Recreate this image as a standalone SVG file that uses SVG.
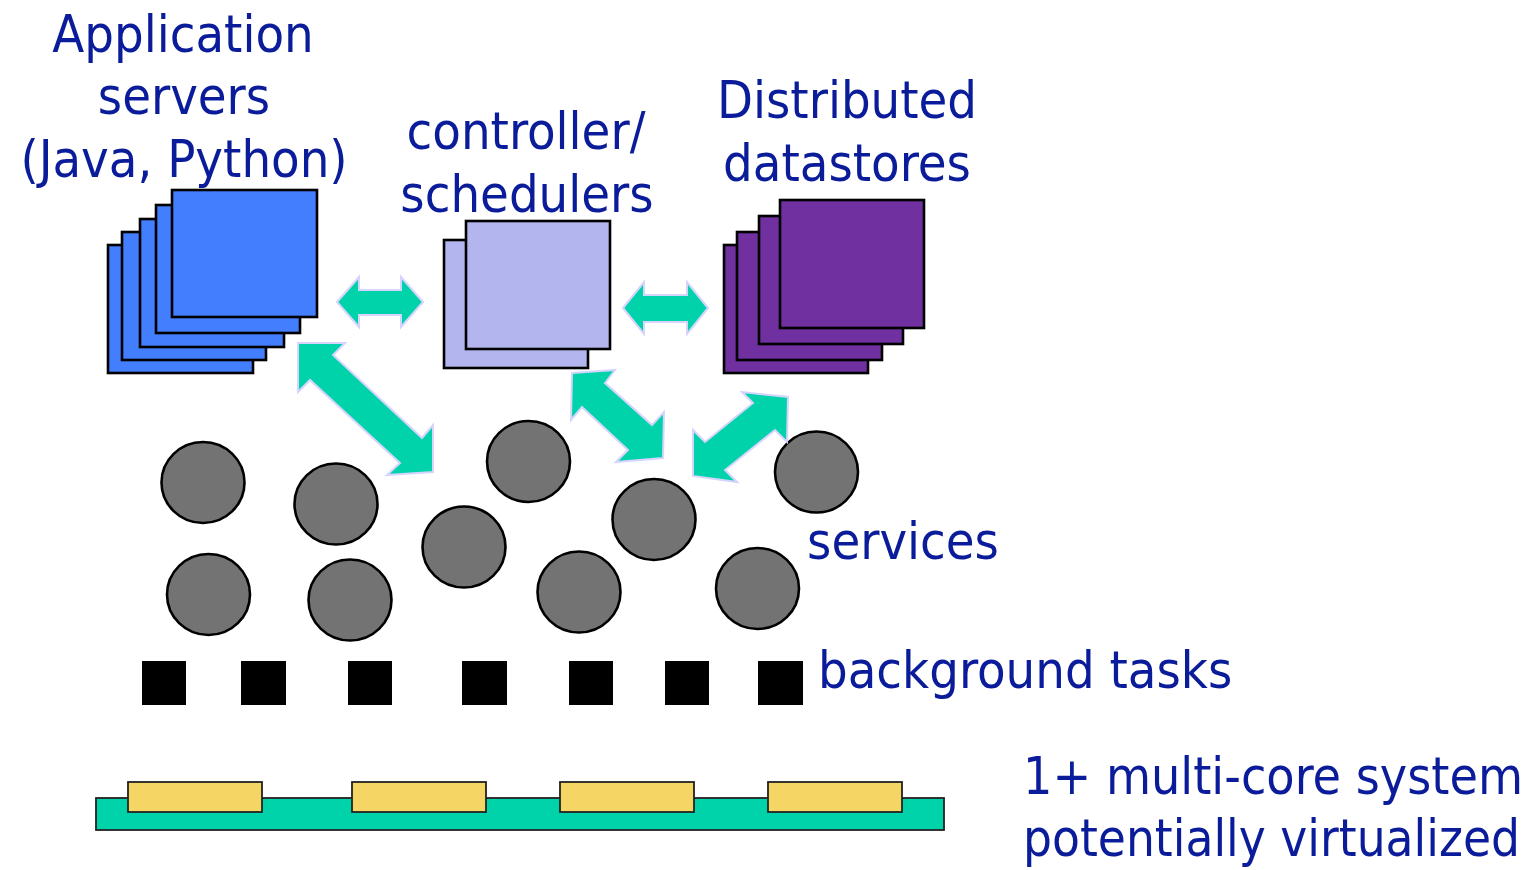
<svg xmlns="http://www.w3.org/2000/svg" width="1531" height="870" viewBox="0 0 1531 870">
  <style>
    .lbl { font-family: 'DejaVu Sans Condensed', 'DejaVu Sans', sans-serif; font-stretch: condensed; font-size: 52px; fill: #0a1c9a; }
    .mid { text-anchor: middle; }
    .box { stroke: #000; stroke-width: 2.6; }
    .app { fill: #437eff; }
    .ctl { fill: #b2b5ee; }
    .ds { fill: #7030a0; }
    .svc { fill: #737373; stroke: #000; stroke-width: 2.6; }
    .task { fill: #000; }
    .link { fill: #00d2aa; stroke: #d4d4ff; stroke-width: 2; stroke-linejoin: miter; }
    .board { fill: #00d2aa; stroke: #222; stroke-width: 1.8; }
    .core { fill: #f5d564; stroke: #222; stroke-width: 1.8; }
  </style>

  <!-- application servers -->
  <g id="app-servers">
    <rect class="box app" x="108" y="245" width="145" height="128"/>
    <rect class="box app" x="122" y="232" width="144" height="128"/>
    <rect class="box app" x="140" y="219" width="144" height="128"/>
    <rect class="box app" x="156" y="205" width="144" height="128"/>
    <rect class="box app" x="172" y="190" width="145" height="127"/>
    <text class="lbl mid" x="183" y="52">Application</text>
    <text class="lbl mid" x="184" y="114">servers</text>
    <text class="lbl mid" x="184" y="177">(Java, Python)</text>
  </g>

  <!-- controller / schedulers -->
  <g id="schedulers">
    <rect class="box ctl" x="444" y="240" width="144" height="128"/>
    <rect class="box ctl" x="466" y="221" width="144" height="128"/>
    <text class="lbl mid" x="526" y="149">controller/</text>
    <text class="lbl mid" x="527" y="212">schedulers</text>
  </g>

  <!-- distributed datastores -->
  <g id="datastores">
    <rect class="box ds" x="724" y="245" width="144" height="128"/>
    <rect class="box ds" x="737" y="232" width="145" height="128"/>
    <rect class="box ds" x="759" y="216" width="144" height="128"/>
    <rect class="box ds" x="780" y="200" width="144" height="128"/>
    <text class="lbl mid" x="847" y="118">Distributed</text>
    <text class="lbl mid" x="847" y="181">datastores</text>
  </g>

  <!-- services -->
  <g id="services">
    <ellipse class="svc" cx="203" cy="482.5" rx="41.5" ry="40.5"/>
    <ellipse class="svc" cx="336" cy="504" rx="41.5" ry="40.5"/>
    <ellipse class="svc" cx="528.5" cy="461.5" rx="41.5" ry="40.5"/>
    <ellipse class="svc" cx="816.5" cy="472" rx="41.5" ry="40.5"/>
    <ellipse class="svc" cx="464" cy="547" rx="41.5" ry="40.5"/>
    <ellipse class="svc" cx="654" cy="519.5" rx="41.5" ry="40.5"/>
    <ellipse class="svc" cx="208.5" cy="594.5" rx="41.5" ry="40.5"/>
    <ellipse class="svc" cx="350" cy="600" rx="41.5" ry="40.5"/>
    <ellipse class="svc" cx="579" cy="592" rx="41.5" ry="40.5"/>
    <ellipse class="svc" cx="757.5" cy="588.5" rx="41.5" ry="40.5"/>
    <text class="lbl" x="807" y="559">services</text>
  </g>

  <!-- background tasks -->
  <g id="background-tasks">
    <rect class="task" x="142" y="661" width="44" height="44"/>
    <rect class="task" x="241" y="661" width="45" height="44"/>
    <rect class="task" x="348" y="661" width="44" height="44"/>
    <rect class="task" x="462" y="661" width="45" height="44"/>
    <rect class="task" x="569" y="661" width="44" height="44"/>
    <rect class="task" x="665" y="661" width="44" height="44"/>
    <rect class="task" x="758" y="661" width="45" height="44"/>
    <text class="lbl" x="818" y="688">background tasks</text>
  </g>

  <!-- multi-core hardware -->
  <g id="hardware">
    <rect class="board" x="96" y="798" width="848" height="32"/>
    <rect class="core" x="128" y="782" width="134" height="30"/>
    <rect class="core" x="352" y="782" width="134" height="30"/>
    <rect class="core" x="560" y="782" width="134" height="30"/>
    <rect class="core" x="768" y="782" width="134" height="30"/>
    <text class="lbl" x="1023" y="794" textLength="500" lengthAdjust="spacingAndGlyphs">1+ multi-core system</text>
    <text class="lbl" x="1023" y="856" textLength="497" lengthAdjust="spacingAndGlyphs">potentially virtualized</text>
  </g>

  <!-- double-headed connectors -->
  <g id="connectors">
    <polygon class="link" points="337,302 359,277 359,290 401,290 401,277 423,302 401,327 401,315 359,315 359,327"/>
    <polygon class="link" points="623,308 644,282 644,295 687,295 687,282 708,308 687,334 687,322 644,322 644,334"/>
    <polygon class="link" points="298,343 345,343 333,355 422,438 433,425 433,472 387,475 400,463 310,380 298,392"/>
    <polygon class="link" points="572,373 615,370 605,383 652,425 664,412 663,458 616,462 628,450 582,407 571,420"/>
    <polygon class="link" points="693,476 693,430 705,442 753,403 742,392 788,397 787,442 775,430 725,470 737,482"/>
  </g>
</svg>
